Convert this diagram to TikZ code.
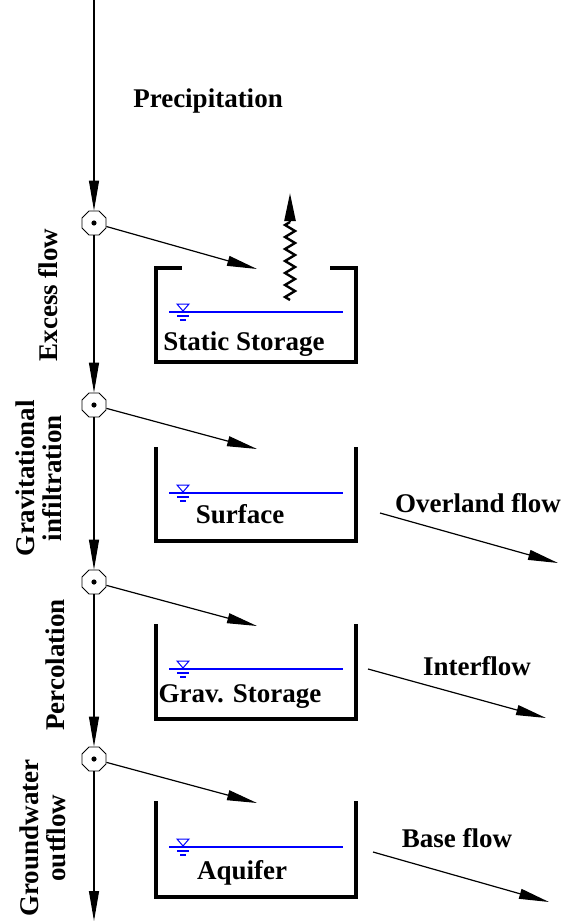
\documentclass[tikz,border=0pt]{standalone}
\usepackage{fontspec}
\setmainfont{Liberation Serif}
\usetikzlibrary{arrows.meta,shapes.geometric,decorations.pathmorphing}
\begin{document}
\begin{tikzpicture}[x=1pt,y=-1pt,
  lbl/.style={font=\fontsize{27}{28}\selectfont\bfseries, inner sep=0pt},
  junction/.style={regular polygon, regular polygon sides=8, draw, fill=white, line width=0.8pt, minimum size=26pt, inner sep=0pt},
  flow/.style={line width=1.2pt, -{Triangle[length=30pt,width=10pt]}},
  wall/.style={line width=4pt, line cap=rect},
  water/.style={blue, line width=1.3pt}]
\useasboundingbox (0,0) rectangle (564,923);

% main stem
\coordinate (top) at (94,0);
\coordinate (bot) at (94,921);
\node[junction] (o1) at (94,223) {};
\node[junction] (o2) at (94,405) {};
\node[junction] (o3) at (94,582) {};
\node[junction] (o4) at (94,759) {};
\foreach \n in {o1,o2,o3,o4}{\fill (\n) circle (2.6pt);}
\draw[flow] (top) -- (o1);
\draw[flow] (o1) -- (o2);
\draw[flow] (o2) -- (o3);
\draw[flow] (o3) -- (o4);
\draw[flow] (o4) -- (bot);

% boxes
\draw[wall] (180,268) -- (156,268) -- (156,362) -- (356,362) -- (356,268) -- (332,268);
\draw[wall] (156,449) -- (156,541) -- (356,541) -- (356,449);
\draw[wall] (156,626) -- (156,719) -- (356,719) -- (356,626);
\draw[wall] (156,803) -- (156,897) -- (356,897) -- (356,803);

% inflow arrows
\coordinate (t1) at (257,269);
\coordinate (t2) at (257,449);
\coordinate (t3) at (257,626);
\coordinate (t4) at (257,803);
\draw[flow] (o1) -- (t1);
\draw[flow] (o2) -- (t2);
\draw[flow] (o3) -- (t3);
\draw[flow] (o4) -- (t4);

% water levels
\foreach \y in {312,493,669,847}{
  \draw[water] (169,\y) -- (343,\y);
  \draw[blue, line width=1pt] (183,\y-1) -- (177,\y-8) -- (189,\y-8) -- cycle;
  \draw[blue, line width=1.2pt] (177,\y+4) -- (189,\y+4);
  \draw[blue, line width=1.2pt] (180,\y+8) -- (186,\y+8);
}

% evaporation
\coordinate (e0) at (290,300);
\coordinate (e1) at (290,222);
\coordinate (e2) at (290,193);
\draw[line width=2.4pt, line join=miter, decorate, decoration={zigzag, amplitude=5pt, segment length=12pt}] (e0) -- (e1);
\draw[line width=2.4pt, -{Triangle[length=28pt,width=11pt]}] (e1) -- (e2);

% outflow arrows
\coordinate (s1) at (380,513); \coordinate (f1) at (558,563);
\coordinate (s2) at (368,669); \coordinate (f2) at (546,718);
\coordinate (s3) at (373,852); \coordinate (f3) at (549,902);
\draw[flow] (s1) -- (f1);
\draw[flow] (s2) -- (f2);
\draw[flow] (s3) -- (f3);

% texts
\node[lbl, anchor=base] (prec) at (208,108) {Precipitation};
\node[lbl, anchor=base] (ss) at (244,350) {Static Storage};
\node[lbl, anchor=base] (sf) at (240,523) {Surface};
\node[lbl, anchor=base] (gs) at (240,702) {Grav. Storage};
\node[lbl, anchor=base] (aq) at (242,879) {Aquifer};
\node[lbl, anchor=base] (of) at (478,512) {Overland flow};
\node[lbl, anchor=base] (if) at (477,675) {Interflow};
\node[lbl, anchor=base] (bf) at (457,847) {Base flow};

\node[lbl, rotate=90] (ex) at (48,295) {Excess flow};
\node[lbl, rotate=90, align=center, font=\fontsize{27}{27}\selectfont\bfseries] (gi) at (39,478) {Gravitational\\infiltration};
\node[lbl, rotate=90] (pc) at (55,665) {Percolation};
\node[lbl, rotate=90, align=center, font=\fontsize{27}{27}\selectfont\bfseries] (gw) at (43,838) {Groundwater\\outflow};
\end{tikzpicture}
\end{document}
